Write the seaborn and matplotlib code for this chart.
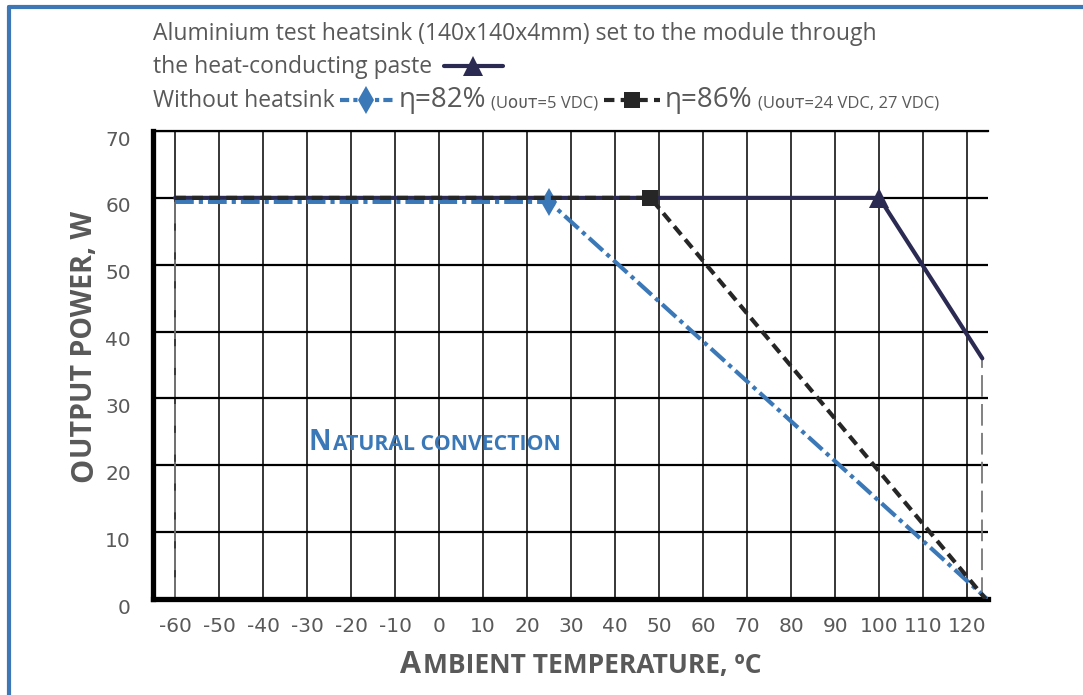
import numpy as np
import pandas as pd
import seaborn as sns
import matplotlib.pyplot as plt
from matplotlib.lines import Line2D
from matplotlib.offsetbox import TextArea, DrawingArea, HPacker, AnchoredOffsetbox
from matplotlib.transforms import ScaledTranslation

# break points of the derating curves: ambient temperature (°C) -> output power (W)
heatsink_t = [-60, 100, 123.4]
heatsink_p = [60, 60, 36]
eta82_t = [-60, 25, 124.5]
eta82_p = [59.4, 59.4, 0]
eta86_t = [-60, 48, 124.2]
eta86_p = [60, 60, 0]
# gray dashed limits at the ends of the temperature range
limit_t = [-60, 123.4]
limit_p = [60, 36]

x_ticks = list(range(-60, 121, 10))
y_ticks = list(range(0, 71, 10))

NAVY = "#2b2a52"
BLUE = "#3b78b8"
DARK = "#262626"
GRAY = "#595959"
FRAME = "#3d77b6"
HEAD_FONT = ["Open Sans", "DejaVu Sans"]

sns.set_style("white")
plt.rcParams["font.family"] = ["DejaVu Sans"]
plt.rcParams["axes.unicode_minus"] = False

fig = plt.figure(figsize=(10.83, 6.95), dpi=100)
ax = fig.add_axes([0.1413, 0.138, 0.771, 0.6735])

# grid
ax.set_xlim(-65, 124.7)
ax.set_ylim(0, 70)
ax.set_xticks(x_ticks)
ax.set_yticks(y_ticks)
ax.grid(axis="x", color="black", lw=1.1)
ax.grid(axis="y", color="black", lw=1.6)
ax.set_axisbelow(True)
for side in ["left", "bottom"]:
    ax.spines[side].set_linewidth(3.8)
    ax.spines[side].set_color("black")
ax.spines["top"].set_linewidth(1.6)
ax.spines["top"].set_color("black")
ax.spines["right"].set_visible(False)

ax.tick_params(axis="both", length=0, labelsize=14.5, labelcolor=GRAY)
ax.tick_params(axis="x", pad=13)
ax.tick_params(axis="y", pad=16)
for lab in ax.get_yticklabels():
    lab.set_transform(lab.get_transform() + ScaledTranslation(0, -0.07, fig.dpi_scale_trans))

# limit lines
ax.vlines(limit_t, 0, limit_p, colors="#777777", linestyles=(0, (12, 4)), lw=1.3, zorder=2)

# curves
sns.lineplot(x=heatsink_t, y=heatsink_p, ax=ax, color=NAVY, lw=3, marker="^",
             markevery=[1], ms=14, mec=NAVY, mew=0, zorder=3)
sns.lineplot(x=eta82_t, y=eta82_p, ax=ax, color=BLUE, lw=3, ls=(0, (4.5, 1.2, 1, 1.2)),
             marker="d", markevery=[1], ms=14, mec=BLUE, mew=0, zorder=4)
sns.lineplot(x=eta86_t, y=eta86_p, ax=ax, color=DARK, lw=3, ls=(0, (2.6, 1.5)),
             marker="s", markevery=[1], ms=11, mec=DARK, mew=0, zorder=5)


def caps_text(x, y, transform, first, rest, big, small, rotation=0, **kw):
    t1 = fig.text(x, y, first, transform=transform, fontsize=big, rotation=rotation,
                  rotation_mode="anchor", ha="left", va="baseline", **kw)
    fig.canvas.draw()
    bb = t1.get_window_extent()
    step = bb.height if rotation else (bb.width + 2)
    dx, dy = (0, step) if rotation else (step, 0)
    shift = ScaledTranslation(dx / fig.dpi, dy / fig.dpi, fig.dpi_scale_trans)
    fig.text(x, y, rest, transform=transform + shift, fontsize=small, rotation=rotation,
             rotation_mode="anchor", ha="left", va="baseline", **kw)


caps_text(-29.7, 22.3, ax.transData, "N", "ATURAL CONVECTION", 20, 15.3,
          color=BLUE, fontweight="bold", family=HEAD_FONT)
caps_text(0.369, 0.031, fig.transFigure, "A", "MBIENT TEMPERATURE, ºC", 22, 19,
          color=GRAY, fontweight="bold", family=HEAD_FONT)
caps_text(0.085, 0.306, fig.transFigure, "O", "UTPUT POWER, W", 22, 20.5, rotation=90,
          color=GRAY, fontweight="bold", family=HEAD_FONT)


# header legend
def txt(s, size=16.5):
    return TextArea(s, textprops=dict(fontsize=size, color=GRAY, family=HEAD_FONT))


def symbol(color, ls, marker, ms, width=40):
    da = DrawingArea(width, 10, 0, 0)
    da.add_artist(Line2D([0, width], [5, 5], color=color, lw=3, ls=ls))
    da.add_artist(Line2D([width / 2], [5], marker=marker, ms=ms, color=color, mew=0))
    return da


def row(items, x, y, sep=5):
    box = HPacker(children=items, align="baseline", pad=0, sep=sep)
    fig.add_artist(AnchoredOffsetbox(loc="center left", child=box, pad=0, borderpad=0,
                                     frameon=False, bbox_to_anchor=(x, y),
                                     bbox_transform=fig.transFigure))


row([txt("Aluminium test heatsink (140x140x4mm) set to the module through")], 0.141, 0.951)
row([txt("the heat-conducting paste"), symbol(NAVY, "-", "^", 14, 42)], 0.141, 0.903, sep=9)
row([txt("Without heatsink"),
     symbol(BLUE, (0, (2.2, 1, 1, 1)), "d", 14, 38),
     txt("η=82%", 20), txt("(Uᴏᴜᴛ=5 VDC)", 12),
     symbol(DARK, (0, (2.5, 1.5)), "s", 11, 40),
     txt("η=86%", 20), txt("(Uᴏᴜᴛ=24 VDC, 27 VDC)", 12)], 0.141, 0.856, sep=4)

# blue page frame
fig.add_artist(Line2D([0.0083, 0.0083], [0, 0.99], transform=fig.transFigure, color=FRAME, lw=3))
fig.add_artist(Line2D([0.0083, 1], [0.99, 0.99], transform=fig.transFigure, color=FRAME, lw=3))

fig.savefig("out.png", dpi=100)
